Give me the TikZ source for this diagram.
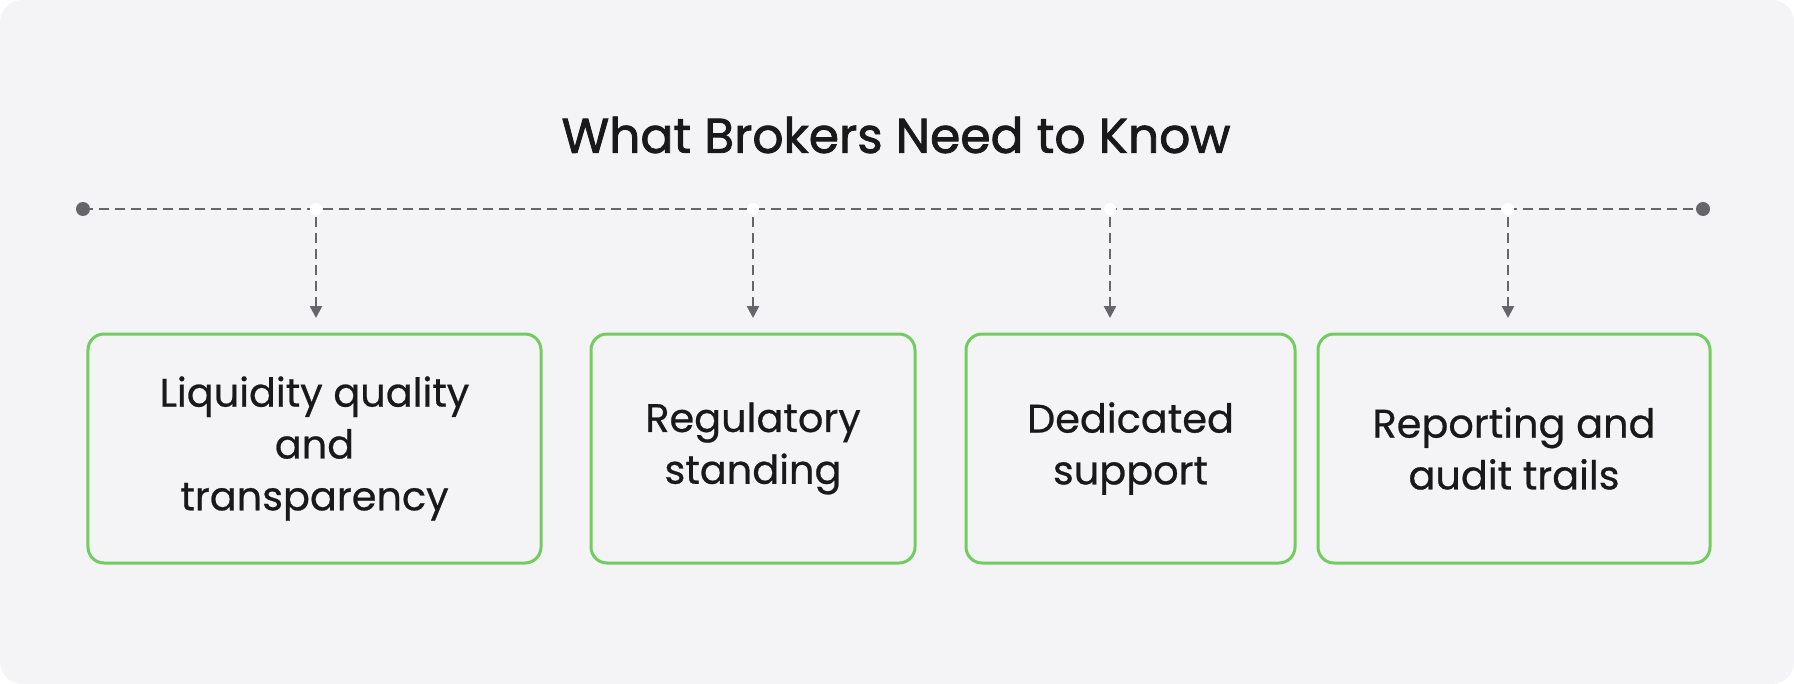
\documentclass[tikz,border=0pt]{standalone}
\usepackage{fontspec}
\setmainfont{Poppins}
\newfontfamily\semib{Poppins}[FakeBold=1.6]
\newfontfamily\medf{Poppins}[FakeBold=0.6]
\usetikzlibrary{arrows.meta}
\definecolor{bg}{HTML}{F4F4F6}
\definecolor{ln}{HTML}{66666A}
\definecolor{gr}{HTML}{72CC60}
\begin{document}
\begin{tikzpicture}[x=1bp,y=-1bp,
  box/.style={draw=gr,line width=3bp,rounded corners=16bp,align=center,font=\medf\fontsize{40}{52}\selectfont,text=black!90},
  dline/.style={ln,line width=2.4bp,dash pattern=on 10bp off 6bp},
  darr/.style={dline,-{Triangle[length=12bp,width=12bp]}}]
\fill[bg,rounded corners=22bp] (0,0) rectangle (1794,684);
\useasboundingbox (0,0) rectangle (1794,684);
\node[font=\semib\fontsize{49}{56}\selectfont,text=black!90] (title) at (896,135) {What Brokers Need to Know};
\fill[ln] (83,209) circle (7bp) coordinate (L);
\fill[ln] (1703,209) circle (7bp) coordinate (R);
\draw[dline] (L) -- (R);
\node[box,minimum width=453bp,minimum height=229bp] (b1) at (314.5,448.5) {Liquidity quality\\and\\transparency};
\node[box,minimum width=324bp,minimum height=229bp] (b2) at (753,448.5) {Regulatory\\standing};
\node[box,minimum width=329bp,minimum height=229bp] (b3) at (1130.5,448.5) {Dedicated\\support};
\node[box,minimum width=392bp,minimum height=229bp] (b4) at (1514,448.5) {Reporting and\\audit trails};
\foreach \x/\n in {316/1,753/2,1110/3,1508/4}{
  \coordinate (j\n) at (\x,209);
  \coordinate (t\n) at (\x,318);
  \draw[darr] ([yshift=-8bp]j\n) -- (t\n);
  \fill[white] (j\n) circle (6bp);
}
\end{tikzpicture}
\end{document}
